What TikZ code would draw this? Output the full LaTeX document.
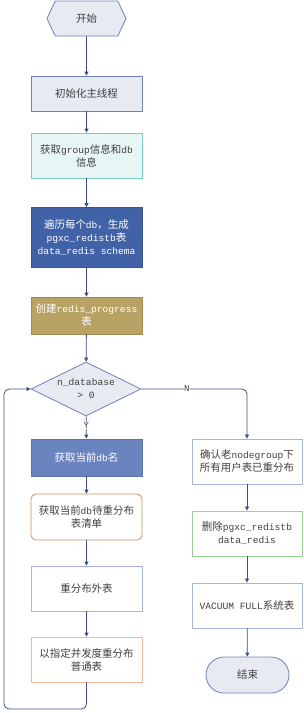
\documentclass[tikz,border=0pt]{standalone}
\usepackage{fontspec}
\setmainfont{Liberation Mono}
\newfontfamily\cjk{Noto Sans CJK SC}[Scale=1.09]
\usetikzlibrary{shapes.geometric,shapes.symbols,arrows.meta,positioning}
\definecolor{linec}{HTML}{3C4C84}
\definecolor{txt}{HTML}{404040}
\definecolor{lav}{HTML}{E8EAF2}
\definecolor{lavb}{HTML}{7080B8}
\definecolor{cyanf}{HTML}{E8F5F5}
\definecolor{cyanb}{HTML}{7CCBC4}
\definecolor{darkb}{HTML}{4262A8}
\definecolor{darkbb}{HTML}{3A5498}
\definecolor{khaki}{HTML}{B8A264}
\definecolor{khakib}{HTML}{A08A50}
\definecolor{medb}{HTML}{6A84C0}
\definecolor{medbb}{HTML}{5A74B0}
\definecolor{brownb}{HTML}{C89060}
\definecolor{lightb}{HTML}{A8B4E0}
\definecolor{peach}{HTML}{F4B8A0}
\definecolor{greenb}{HTML}{98D098}
\begin{document}
\begin{tikzpicture}[x=1pt,y=-1pt,
  every node/.style={font=\fontsize{9.6}{13}\selectfont, text=txt, align=center, inner sep=0pt},
  box/.style={draw, rectangle, line width=0.8pt, minimum width=111pt},
  conn/.style={draw=linec, line width=0.8pt, -{Triangle[width=4pt,length=4pt]}},
  lbl/.style={font=\fontsize{9}{11}\selectfont, text=txt}]
\useasboundingbox (0,0) rectangle (303,713);
\node[signal, signal to=east and west, signal pointer angle=130, draw=lavb, fill=lav, line width=0.8pt, minimum width=79pt, minimum height=35pt] (start) at (86.5,18.5) {\cjk 开始};
\node[box, draw=lavb, fill=lav, minimum height=35pt] (b1) at (86.5,93.5) {\cjk 初始化主线程};
\node[box, draw=cyanb, fill=cyanf, minimum height=45pt] (b2) at (86.5,155.5) {{\cjk 获取}group{\cjk 信息和}db\\{\cjk 信息}};
\node[box, draw=darkbb, fill=darkb, text=white, minimum height=60pt] (b3) at (86.5,237.5) {{\cjk 遍历每个}db{\cjk ，生成}\\pgxc\_redistb{\cjk 表}\\data\_redis schema};
\node[box, draw=khakib, fill=khaki, text=white, minimum height=37pt] (b4) at (86.5,315.5) {{\cjk 创建}redis\_progress\\{\cjk 表}};
\node[diamond, draw=lavb, fill=lav, line width=0.8pt, minimum width=110pt, minimum height=54pt, shape aspect=2] (dec) at (86,389) {n\_database\\> 0};
\node[box, draw=medbb, fill=medb, text=white, minimum height=37pt] (l1) at (86.5,457.5) {{\cjk 获取当前}db{\cjk 名}};
\node[box, draw=brownb, fill=white, rounded corners=5pt, minimum height=46pt] (l2) at (86.5,517) {{\cjk 获取当前}db{\cjk 待重分布}\\{\cjk 表清单}};
\node[box, draw=lightb, fill=white, minimum height=45pt] (l3) at (86.5,588.5) {\cjk 重分布外表};
\node[box, draw=peach, fill=white, minimum height=45pt] (l4) at (86.5,659.5) {{\cjk 以指定并发度重分布}\\{\cjk 普通表}};
\node[box, draw=lightb, fill=white, minimum width=110pt, minimum height=45pt] (r1) at (247,461.5) {{\cjk 确认老}nodegroup{\cjk 下}\\{\cjk 所有用户表已重分布}};
\node[box, draw=greenb, fill=white, minimum width=110pt, minimum height=45pt] (r2) at (247,533.5) {{\cjk 删除}pgxc\_redistb\\data\_redis};
\node[box, draw=lightb, fill=white, minimum width=110pt, minimum height=45pt] (r3) at (247,605.5) {VACUUM FULL{\cjk 系统表}};
\node[draw=lavb, fill=lav, line width=0.8pt, rounded corners=18pt, minimum width=83pt, minimum height=36pt] (r4) at (247.5,675) {\cjk 结束};
\draw[conn] (start) -- (b1);
\draw[conn] (b1) -- (b2);
\draw[conn] (b2) -- (b3);
\draw[conn] (b3) -- (b4);
\draw[conn] (b4) -- (dec);
\draw[conn] (dec) -- node[lbl, fill=white, pos=0.42] {Y} (l1);
\draw[conn] (l1) -- (l2);
\draw[conn] (l2) -- (l3);
\draw[conn] (l3) -- (l4);
\draw[conn, rounded corners=5pt] (dec.east) -- node[lbl, fill=white, pos=0.43] {N} (r1.north |- dec.east) -- (r1.north);
\draw[conn] (r1) -- (r2);
\draw[conn] (r2) -- (r3);
\draw[conn] (r3) -- (r4);
\coordinate (lb) at (4,709);
\draw[conn, rounded corners=5pt] (l4.south) -- (l4.south |- lb) -- (lb) -- (lb |- dec.west) -- (dec.west);
\end{tikzpicture}
\end{document}
